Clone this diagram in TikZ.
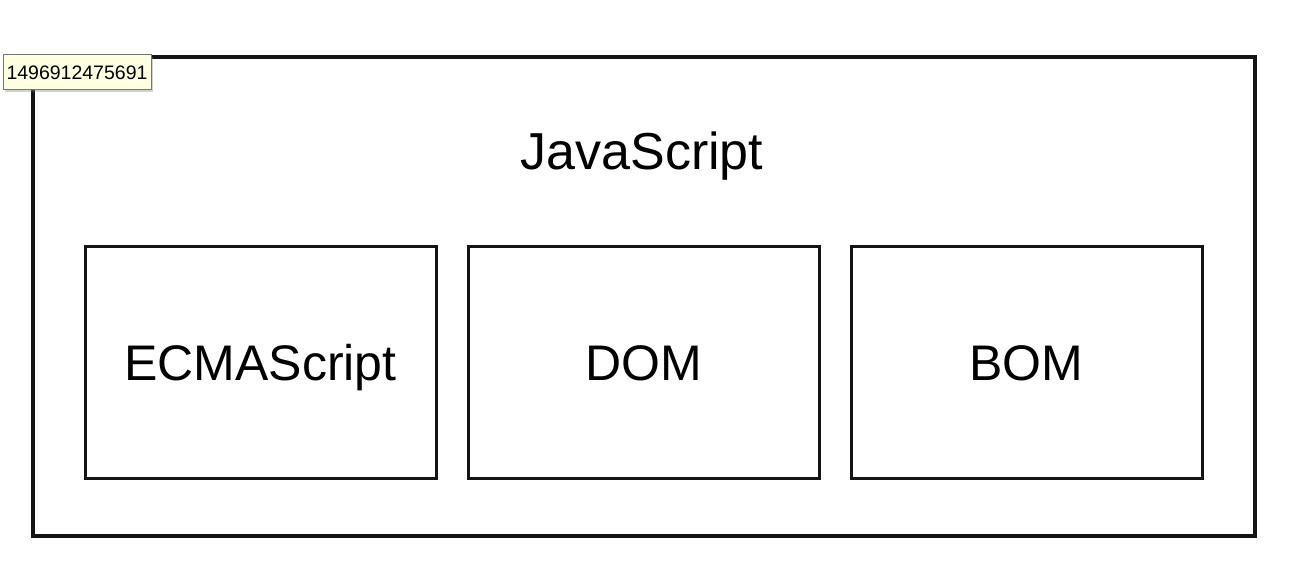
\documentclass[tikz,border=0pt]{standalone}
\usepackage{fontspec}
\setmainfont{Liberation Sans}
\usetikzlibrary{shadows}
\definecolor{tipfill}{HTML}{FFFFE1}
\definecolor{tipborder}{HTML}{767676}
\begin{document}
\begin{tikzpicture}[x=1pt,y=-1pt,
  outerbox/.style={draw=black!92,line width=3.2pt},
  innerbox/.style={draw=black!92,line width=3pt,minimum width=351pt,minimum height=232pt,inner sep=0pt,
    font=\fontsize{50}{60}\selectfont,text height=36pt,text depth=0pt},
  tipbox/.style={draw=tipborder,fill=tipfill,line width=1pt,inner sep=0pt,minimum width=148pt,minimum height=35pt,
    font=\fontsize{19.5}{23}\selectfont,drop shadow={shadow xshift=2pt,shadow yshift=-2pt,opacity=0.35}}]
\useasboundingbox (0,0) rectangle (1308,567);
\fill[white] (0,0) rectangle (1308,567);
\node[outerbox,minimum width=1222pt,minimum height=479pt,inner sep=0pt] (js) at (644,296.5) {};
\node[font=\fontsize{52}{62}\selectfont,anchor=base] (jstitle) at (642,169) {JavaScript};
\node[innerbox] (ecma) at (260.5,362) {ECMAScript};
\node[innerbox] (dom) at (643.5,362) {DOM};
\node[innerbox] (bom) at (1026.5,362) {BOM};
\node[tipbox] (tip) at (77,72.5) {1496912475691};
\end{tikzpicture}
\end{document}
